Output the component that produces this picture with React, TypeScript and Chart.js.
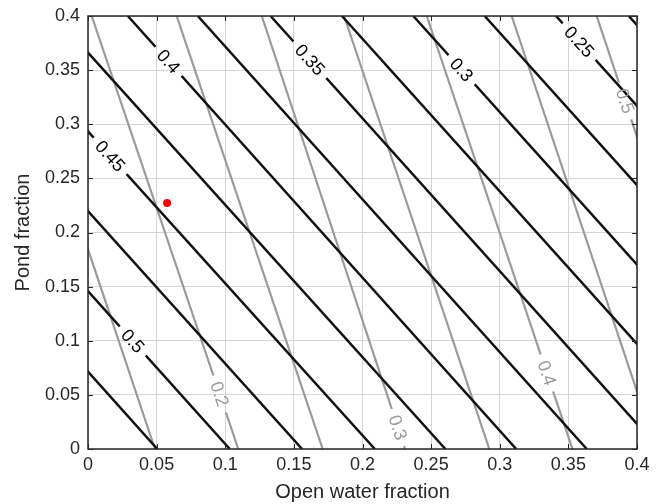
import { useEffect, useRef } from 'react';
import { Chart, registerables } from 'chart.js';

Chart.register(...registerables);

// Black contour family (levels, x where each contour meets y = 0 and y = 0.4)
const blackLevels = [0.55, 0.525, 0.5, 0.475, 0.45, 0.425, 0.4, 0.375, 0.35, 0.325, 0.3, 0.275, 0.25, 0.225];
const blackXAtBottom = [-0.002, 0.0505, 0.1033, 0.156, 0.209, 0.2604, 0.312, 0.3634, 0.4165, 0.469, 0.521, 0.573, 0.625, 0.677];
const blackXAtTop = [-0.285, -0.232, -0.18, -0.128, -0.076, -0.024, 0.029, 0.08, 0.133, 0.185, 0.237, 0.289, 0.341, 0.394];
// Black contour labels: level and the y value where the label sits
const blackLabelLevels = [0.5, 0.45, 0.4, 0.35, 0.3, 0.25];
const blackLabelY = [0.0998, 0.2707, 0.3581, 0.3596, 0.3504, 0.3763];

// Gray contour family
const grayLevels = [0.15, 0.2, 0.25, 0.3, 0.35, 0.4, 0.45, 0.5];
const grayXAtBottom = [0.0488, 0.1095, 0.171, 0.231, 0.2924, 0.353, 0.414, 0.476];
const grayXAtTop = [-0.057, 0.0027, 0.0646, 0.1266, 0.1866, 0.2468, 0.3087, 0.3706];
const grayLabelLevels = [0.2, 0.3, 0.4, 0.5];
const grayLabelY = [0.0508, 0.0199, 0.0702, 0.3215];

// Marked point
const pointX = [0.0576];
const pointY = [0.2273];

// Axes
const axisMin = 0;
const axisMax = 0.4;
const tickStep = 0.05;
const xTickLabels = ['0', '0.05', '0.1', '0.15', '0.2', '0.25', '0.3', '0.35', '0.4'];
const yTickLabels = ['0', '0.05', '0.1', '0.15', '0.2', '0.25', '0.3', '0.35', '0.4'];
const xTitle = 'Open water fraction';
const yTitle = 'Pond fraction';

const FONT = "'Liberation Sans', Arial, Helvetica, sans-serif";
const TEXT = '#262626';
const BLACK = '#111111';
const GRAY = '#9a9a9a';
const LABEL_PX = 18;
const TITLE_PX = 20;
const TICK_PX = 18;

function labelGeometry(chart: any, ds: any) {
  const xs = chart.scales.x;
  const ys = chart.scales.y;
  const a = ds.data[0];
  const b = ds.data[1];
  const t = (ds.labelY - a.y) / (b.y - a.y);
  const lx = a.x + t * (b.x - a.x);
  const px = xs.getPixelForValue(lx);
  const py = ys.getPixelForValue(ds.labelY);
  const dx = xs.getPixelForValue(a.x) - xs.getPixelForValue(b.x);
  const dy = ys.getPixelForValue(a.y) - ys.getPixelForValue(b.y);
  const angle = Math.atan2(dy, dx);
  return { px, py, angle };
}

const contourPlugin = {
  id: 'contourLabels',
  beforeDatasetDraw(chart: any, args: any) {
    const ds = chart.data.datasets[args.index];
    if (!ds.labelText) return;
    const ctx = chart.ctx;
    const g = labelGeometry(chart, ds);
    ctx.save();
    ctx.font = `${LABEL_PX}px ${FONT}`;
    const w = ctx.measureText(ds.labelText).width;
    const hw = w / 2 + 7;
    const hh = 7;
    const ux = Math.cos(g.angle), uy = Math.sin(g.angle);
    const vx = -uy, vy = ux;
    ctx.beginPath();
    ctx.rect(0, 0, chart.width, chart.height);
    const c = [
      [g.px - ux * hw - vx * hh, g.py - uy * hw - vy * hh],
      [g.px + ux * hw - vx * hh, g.py + uy * hw - vy * hh],
      [g.px + ux * hw + vx * hh, g.py + uy * hw + vy * hh],
      [g.px - ux * hw + vx * hh, g.py - uy * hw + vy * hh],
    ];
    ctx.moveTo(c[0][0], c[0][1]);
    for (let i = 1; i < 4; i++) ctx.lineTo(c[i][0], c[i][1]);
    ctx.closePath();
    ctx.clip('evenodd');
  },
  afterDatasetDraw(chart: any, args: any) {
    const ds = chart.data.datasets[args.index];
    if (!ds.labelText) return;
    chart.ctx.restore();
  },
  afterDatasetsDraw(chart: any) {
    const ctx = chart.ctx;
    const area = chart.chartArea;
    const xs = chart.scales.x;
    const ys = chart.scales.y;
    chart.data.datasets.forEach((ds: any) => {
      if (!ds.labelText) return;
      const g = labelGeometry(chart, ds);
      ctx.save();
      ctx.translate(g.px, g.py);
      ctx.rotate(g.angle);
      ctx.font = `${LABEL_PX}px ${FONT}`;
      ctx.fillStyle = ds.labelColor;
      ctx.textAlign = 'center';
      ctx.textBaseline = 'middle';
      ctx.fillText(ds.labelText, 0, 1);
      ctx.restore();
    });
    ctx.save();
    ctx.strokeStyle = TEXT;
    ctx.lineWidth = 1.5;
    ctx.strokeRect(area.left, area.top, area.right - area.left, area.bottom - area.top);
    ctx.lineWidth = 1;
    const tl = 5;
    ctx.beginPath();
    xs.ticks.forEach((t: any) => {
      const p = Math.round(xs.getPixelForValue(t.value)) + 0.5;
      ctx.moveTo(p, area.bottom);
      ctx.lineTo(p, area.bottom - tl);
      ctx.moveTo(p, area.top);
      ctx.lineTo(p, area.top + tl);
    });
    ys.ticks.forEach((t: any) => {
      const p = Math.round(ys.getPixelForValue(t.value)) + 0.5;
      ctx.moveTo(area.left, p);
      ctx.lineTo(area.left + tl, p);
      ctx.moveTo(area.right, p);
      ctx.lineTo(area.right - tl, p);
    });
    ctx.stroke();
    ctx.fillStyle = TEXT;
    ctx.font = `${TITLE_PX}px ${FONT}`;
    ctx.textAlign = 'center';
    ctx.textBaseline = 'alphabetic';
    ctx.fillText(xTitle, (area.left + area.right) / 2, 498);
    ctx.translate(29, (area.top + area.bottom) / 2);
    ctx.rotate(-Math.PI / 2);
    ctx.fillText(yTitle, 0, 0);
    ctx.restore();
  },
};

export default function App() {
  const ref = useRef<HTMLCanvasElement>(null);
  useEffect(() => {
    document.body.style.margin = '0';
    const datasets: any[] = [];
    datasets.push({
      data: pointX.map((x, i) => ({ x, y: pointY[i] })),
      showLine: false,
      pointRadius: 4,
      pointBackgroundColor: '#ff0000',
      pointBorderWidth: 0,
      clip: false,
    });
    blackLevels.forEach((lvl, i) => {
      const li = blackLabelLevels.indexOf(lvl);
      datasets.push({
        data: [
          { x: blackXAtBottom[i], y: axisMin },
          { x: blackXAtTop[i], y: axisMax },
        ],
        showLine: true,
        borderColor: BLACK,
        borderWidth: 2.5,
        pointRadius: 0,
        clip: 0,
        labelText: li >= 0 ? String(lvl) : undefined,
        labelY: li >= 0 ? blackLabelY[li] : undefined,
        labelColor: '#000000',
      });
    });
    grayLevels.forEach((lvl, i) => {
      const li = grayLabelLevels.indexOf(lvl);
      datasets.push({
        data: [
          { x: grayXAtBottom[i], y: axisMin },
          { x: grayXAtTop[i], y: axisMax },
        ],
        showLine: true,
        borderColor: GRAY,
        borderWidth: 2.2,
        pointRadius: 0,
        clip: 0,
        labelText: li >= 0 ? String(lvl) : undefined,
        labelY: li >= 0 ? grayLabelY[li] : undefined,
        labelColor: GRAY,
      });
    });

    const tickFont = { family: FONT, size: TICK_PX };
    const chart = new Chart(ref.current as HTMLCanvasElement, {
      type: 'scatter',
      data: { datasets },
      options: {
        animation: false,
        responsive: false,
        events: [],
        layout: { padding: { top: 16, right: 25, left: 0, bottom: 0 } },
        plugins: { legend: { display: false }, tooltip: { enabled: false } },
        scales: {
          x: {
            type: 'linear',
            position: 'bottom',
            min: axisMin,
            max: axisMax,
            afterFit: (s: any) => {
              s.height = 55;
              s.paddingLeft = 0;
              s.paddingRight = 0;
            },
            ticks: {
              stepSize: tickStep,
              padding: 5,
              autoSkip: false,
              maxRotation: 0,
              color: TEXT,
              font: tickFont,
              callback: (v: any) => xTickLabels[Math.round(Number(v) / tickStep)],
            },
            grid: { color: '#d6d6d6', lineWidth: 1, drawTicks: false },
            border: { display: false },
          },
          y: {
            type: 'linear',
            position: 'left',
            min: axisMin,
            max: axisMax,
            afterFit: (s: any) => {
              s.width = 88;
              s.paddingTop = 0;
              s.paddingBottom = 0;
            },
            ticks: {
              stepSize: tickStep,
              padding: 8,
              autoSkip: false,
              color: TEXT,
              font: tickFont,
              callback: (v: any) => yTickLabels[Math.round(Number(v) / tickStep)],
            },
            grid: { color: '#d6d6d6', lineWidth: 1, drawTicks: false },
            border: { display: false },
          },
        },
      } as any,
      plugins: [contourPlugin as any],
    });
    return () => chart.destroy();
  }, []);
  return (
    <div style={{ width: 662, height: 504, position: 'relative' }}>
      <canvas ref={ref} width={662} height={504} style={{ display: 'block' }} />
    </div>
  );
}
